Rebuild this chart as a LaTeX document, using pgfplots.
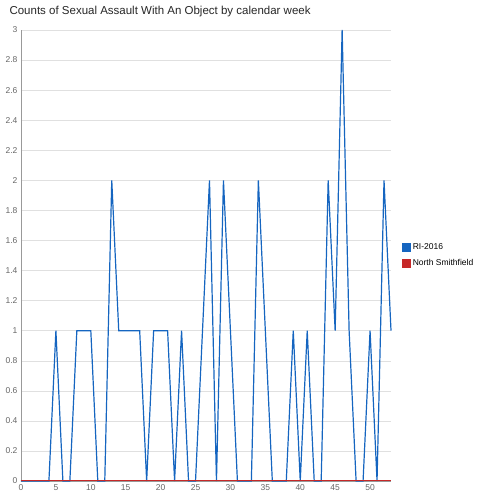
\documentclass[border=0pt]{standalone}
\usepackage{pgfplots}
\pgfplotsset{compat=1.18}
\usepackage{fontspec}
\setmainfont{Liberation Sans}
\definecolor{bl}{HTML}{1565C0}
\definecolor{rd}{HTML}{C62828}
\begin{document}
\begin{tikzpicture}[x=1pt,y=1pt]
\useasboundingbox (0,0) rectangle (500,500);
\node[anchor=west,font=\fontsize{11.5}{13}\selectfont,text=black!85] at (6,488) {Counts of Sexual Assault With An Object by calendar week};
\begin{axis}[at={(21pt,19pt)},anchor=south west,scale only axis,width=370pt,height=451pt,
 xmin=0,xmax=53,ymin=0,ymax=3,
 xtick={0,5,...,50},ytick={0,0.2,...,3.01},
 yticklabel style={/pgf/number format/fixed,/pgf/number format/precision=1},
 /pgf/number format/assume math mode=true,
 tick label style={font=\fontsize{8.5}{10}\selectfont,text=black!60},
 ymajorgrids,grid style={black!12},
 axis x line*=bottom, axis y line*=left,
 axis line style={black!40},
 tick style={draw=none},
 clip=false,
 legend cell align=left,
 legend style={at={(1.02,0.5)},anchor=west,draw=none,font=\fontsize{8.5}{10}\selectfont,row sep=4pt},
 legend image code/.code={\fill[#1] (0pt,-4pt) rectangle (8pt,4pt);}]
\addplot[bl,line width=1.2pt] coordinates {(0,0)(1,0)(2,0)(3,0)(4,0)(5,1)(6,0)(7,0)(8,1)(9,1)(10,1)(11,0)(12,0)(13,2)(14,1)(15,1)(16,1)(17,1)(18,0)(19,1)(20,1)(21,1)(22,0)(23,1)(24,0)(25,0)(26,1)(27,2)(28,0)(29,2)(30,1)(31,0)(32,0)(33,0)(34,2)(35,1)(36,0)(37,0)(38,0)(39,1)(40,0)(41,1)(42,0)(43,0)(44,2)(45,1)(46,3)(47,1)(48,0)(49,0)(50,1)(51,0)(52,2)(53,1)};
\addlegendentry{RI-2016}
\addplot[rd,line width=1pt] coordinates {(0,0)(53,0)};
\addlegendentry{North Smithfield}
\end{axis}
\end{tikzpicture}
\end{document}
